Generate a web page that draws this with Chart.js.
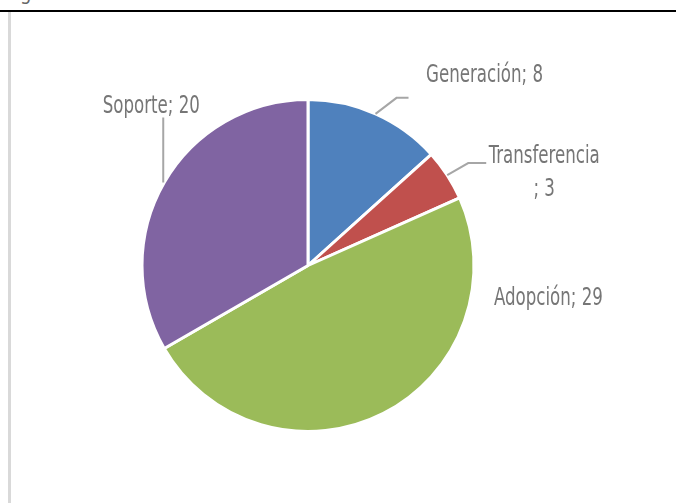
<!DOCTYPE html>
<html>
<head>
<meta charset="utf-8">
<script src="https://cdn.jsdelivr.net/npm/chart.js"></script>
<style>
  html, body { margin: 0; padding: 0; background: #fff; }
  .wrap { position: relative; width: 676px; height: 503px; overflow: hidden; }
  .top-rule { position: absolute; left: 0; top: 10px; width: 676px; height: 2px; background: #000; }
  .left-rule { position: absolute; left: 8px; top: 12px; width: 3px; height: 491px; background: #d9d9d9; }
  .cut-text { position: absolute; left: 20px; top: -19px; font: 20px "DejaVu Sans Condensed", sans-serif; color: #666; }
  canvas { position: absolute; left: 0; top: 0; }
</style>
</head>
<body>
<div class="wrap">
  <div class="cut-text">g</div>
  <div class="top-rule"></div>
  <div class="left-rule"></div>
  <canvas id="pieChart" width="676" height="503"></canvas>
</div>

<script>
const categories = ['Generación', 'Transferencia', 'Adopción', 'Soporte'];
const values = [8, 3, 29, 20];
const sliceColors = ['#4F81BD', '#C0504D', '#9BBB59', '#8064A2'];

// label text lines for each slice ("Nombre; valor", Transferencia wraps)
const labelLines = [
    [categories[0] + '; ' + values[0]],
    [categories[1], '; ' + values[1]],
    [categories[2] + '; ' + values[2]],
    [categories[3] + '; ' + values[3]]
];

// label placement, relative to the slice's outer mid point
const labelLayout = [
    { text: [109, -32], leader: [[0, 0], [21, -16], [33, -16]] },
    { text: [97, -12], leader: [[0, 0], [21, -12], [39, -12]] },
    { text: [165, -108], leader: null },
    { text: [-13, -70], leader: [[-1, 0], [-1, -65]] }
];

const pieLabels = {
    id: 'pieLabels',
    afterDatasetsDraw(chart) {
        const ctx = chart.ctx;
        const meta = chart.getDatasetMeta(0);
        meta.data.forEach((arc, i) => {
            const p = arc.getProps(['x', 'y', 'startAngle', 'endAngle', 'outerRadius'], true);
            const mid = (p.startAngle + p.endAngle) / 2;
            const ax = p.x + Math.cos(mid) * p.outerRadius;
            const ay = p.y + Math.sin(mid) * p.outerRadius;
            const lay = labelLayout[i];

            ctx.save();
            if (lay.leader) {
                ctx.strokeStyle = '#a6a6a6';
                ctx.lineWidth = 2;
                ctx.beginPath();
                lay.leader.forEach((pt, k) => {
                    if (k === 0) ctx.moveTo(ax + pt[0], ay + pt[1]);
                    else ctx.lineTo(ax + pt[0], ay + pt[1]);
                });
                ctx.stroke();
            }

            // condensed look: squeeze the condensed font a bit more
            const tx = ax + lay.text[0];
            const ty = ay + lay.text[1];
            ctx.fillStyle = '#767676';
            ctx.font = '25px "DejaVu Sans Condensed", sans-serif';
            ctx.textAlign = 'center';
            ctx.textBaseline = 'alphabetic';
            ctx.translate(tx, ty);
            ctx.scale(0.74, 1);
            labelLines[i].forEach((line, k) => {
                ctx.fillText(line, 0, k * 33);
            });
            ctx.restore();
        });
    }
};

const ctx = document.getElementById('pieChart').getContext('2d');
new Chart(ctx, {
    type: 'pie',
    data: {
        labels: categories,
        datasets: [{
            data: values,
            backgroundColor: sliceColors,
            borderColor: '#ffffff',
            borderWidth: 3,
            hoverOffset: 0
        }]
    },
    options: {
        responsive: false,
        animation: false,
        radius: 166,
        layout: { padding: { left: 0, right: 60, top: 28, bottom: 0 } },
        plugins: {
            legend: { display: false },
            tooltip: { enabled: false }
        }
    },
    plugins: [pieLabels]
});
</script>
</body>
</html>
